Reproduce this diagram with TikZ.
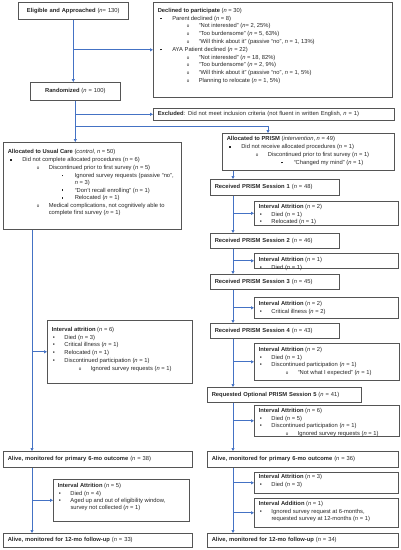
\documentclass[tikz,border=0pt]{standalone}
\usepackage{fontspec}
\setmainfont{Liberation Sans}
\usepackage{xcolor}
\usetikzlibrary{positioning, arrows.meta}

\definecolor{flowblue}{RGB}{68,114,196}
\definecolor{boxgray}{RGB}{85,85,85}

% one list entry: bullet position, text position, bullet, text
\newcommand{\itm}[4]{\par\leftskip=#2pt\relax\noindent\hspace*{\dimexpr#1pt-#2pt\relax}\makebox[\dimexpr#2pt-#1pt\relax][l]{#3}#4}
\newcommand{\sqb}{\rule[0.9pt]{1.7pt}{1.7pt}}
\newcommand{\ob}{{\fontsize{4.5}{5}\selectfont o}}
\newcommand{\lvla}{\itm{2.5}{14.5}{\sqb}}
\newcommand{\lvlb}{\itm{29}{41}{\ob}}
\newcommand{\lvlc}{\itm{54}{67}{\sqb}}
\newcommand{\iaa}{\itm{1}{12.7}{\textbullet}}
\newcommand{\iab}{\itm{27}{39}{\ob}}
\newcommand{\nn}{\textit{n}}
% box text: first baseline, box width, box height, text
\newcommand{\inbox}[4]{\parbox[t][#3pt][t]{\dimexpr#2pt-9pt\relax}{\setlength{\parskip}{0.8pt}\rightskip=-12pt\relax\rule{0pt}{#1pt}#4}}

\begin{document}
\begin{tikzpicture}[
    x=1pt, y=-1pt,
    font=\fontsize{5.8}{7}\selectfont,
    box/.style={draw=boxgray, line width=0.6pt, anchor=north west, inner xsep=4.5pt, inner ysep=0pt, text=black!85},
    line/.style={box, align=left},
    link/.style={flowblue, line width=0.7pt, -{Triangle[length=3pt, width=3pt]}}
]
\useasboundingbox (0,0) rectangle (401,550);

% --- enrolment ---
\node[box, align=center, text width=101pt, minimum height=17pt] (elig) at (18,2)
    {\textbf{Eligible and Approached} (\nn= 130)};
\node[box] (decl) at (153,2) {\inbox{10}{239}{95}{\textbf{Declined to participate} (\nn{} = 30)
    \lvla Parent declined (\nn{} = 8)
    \lvlb ``Not interested'' (\nn= 2, 25\%)
    \lvlb ``Too burdensome'' (\nn{} = 5, 63\%)
    \lvlb ``Will think about it'' (passive ``no'', \nn{} = 1, 13\%)
    \lvla AYA Patient declined (\nn{} = 22)
    \lvlb ``Not interested'' (\nn{} = 18, 82\%)
    \lvlb ``Too burdensome'' (\nn{} = 2, 9\%)
    \lvlb ``Will think about it'' (passive ``no'', \nn{} = 1, 5\%)
    \lvlb Planning to relocate (\nn{} = 1, 5\%)}};
\node[box, align=center, text width=81pt, minimum height=18pt] (rand) at (30,82)
    {\textbf{Randomized} (\nn{} = 100)};
\node[line, text width=232pt, minimum height=12pt] (excl) at (153,108)
    {\textbf{Excluded}: Did not meet inclusion criteria (not fluent in written English, \nn{} = 1)};

% --- allocation ---
\node[box] (uc) at (3,142) {\inbox{11.5}{178}{87}{\textbf{Allocated to Usual Care} (\textit{control}, \nn{} = 50)
    \lvla Did not complete allocated procedures (\nn{} = 6)
    \lvlb Discontinued prior to first survey (\nn{} = 5)
    \lvlc Ignored survey requests (passive ``no'',\newline \nn{} = 3)
    \lvlc ``Don't recall enrolling'' (\nn{} = 1)
    \lvlc Relocated (\nn{} = 1)
    \lvlb Medical complications, not cognitively able to\newline complete first survey (\nn{} = 1)}};
\node[box] (prism) at (222,133) {\inbox{7.5}{172}{37}{\textbf{Allocated to PRISM} (\textit{intervention}, \nn{} = 49)
    \lvla Did not receive allocated procedures (\nn{} = 1)
    \lvlb Discontinued prior to first survey (\nn{} = 1)
    \lvlc ``Changed my mind'' (\nn{} = 1)}};

% --- PRISM sessions ---
\node[line, text width=120pt, minimum height=16pt] (s1) at (210,179) {\textbf{Received PRISM Session 1} (\nn{} = 48)};
\node[box] (ia1) at (254,201) {\inbox{7}{144}{24}{\textbf{Interval Attrition} (\nn{} = 2)
    \iaa Died (\nn{} = 1)
    \iaa Relocated (\nn{} = 1)}};
\node[line, text width=120pt, minimum height=15pt] (s2) at (210,233) {\textbf{Received PRISM Session 2} (\nn{} = 46)};
\node[box] (ia2) at (254,253) {\inbox{8}{144}{15}{\textbf{Interval Attrition} (\nn{} = 1)
    \iaa Died (\nn{} = 1)}};
\node[line, text width=120pt, minimum height=15pt] (s3) at (210,274) {\textbf{Received PRISM Session 3} (\nn{} = 45)};
\node[box] (ia3) at (254,297) {\inbox{8}{144}{21}{\textbf{Interval Attrition} (\nn{} = 2)
    \iaa Critical illness (\nn{} = 2)}};
\node[line, text width=120pt, minimum height=15pt] (s4) at (210,323) {\textbf{Received PRISM Session 4} (\nn{} = 43)};
\node[box] (ia4) at (254,343) {\inbox{8}{145}{37}{\textbf{Interval Attrition} (\nn{} = 2)
    \iaa Died (\nn{} = 1)
    \iaa Discontinued participation (\nn{} = 1)
    \iab ``Not what I expected'' (\nn{} = 1)}};
\node[line, text width=145pt, minimum height=15pt] (s5) at (207,387) {\textbf{Requested Optional PRISM Session 5} (\nn{} = 41)};
\node[box] (ia5) at (254,405) {\inbox{7}{145}{31}{\textbf{Interval Attrition} (\nn{} = 6)
    \iaa Died (\nn{} = 5)
    \iaa Discontinued participation (\nn{} = 1)
    \iab Ignored survey requests (\nn{} = 1)}};
\node[line, text width=182pt, minimum height=16pt] (alive6r) at (207,451) {\textbf{Alive, monitored for primary 6-mo outcome} (\nn{} = 36)};
\node[box] (ia6) at (254,472) {\inbox{6.5}{144}{21}{\textbf{Interval Attrition} (\nn{} = 3)
    \iaa Died (\nn{} = 3)}};
\node[box] (add) at (254,498) {\inbox{7.5}{144}{29}{\textbf{Interval Addition} (\nn{} = 1)
    \iaa Ignored survey request at 6-months,\newline requested survey at 12-months (\nn{} = 1)}};
\node[line, text width=182pt, minimum height=14pt] (alive12r) at (207,533) {\textbf{Alive, monitored for 12-mo follow-up} (\nn{} = 34)};

% --- usual care follow-up ---
\node[box] (lia) at (47,320) {\inbox{11}{145}{63}{\textbf{Interval attrition} (\nn{} = 6)
    \iaa Died (\nn{} = 3)
    \iaa Critical illness (\nn{} = 1)
    \iaa Relocated (\nn{} = 1)
    \iaa Discontinued participation (\nn{} = 1)
    \iab Ignored survey requests (\nn{} = 1)}};
\node[line, text width=180pt, minimum height=16pt] (alive6l) at (3,451) {\textbf{Alive, monitored for primary 6-mo outcome} (\nn{} = 38)};
\node[box] (lia2) at (53,479) {\inbox{8}{136}{42}{\textbf{Interval Attrition} (\nn{} = 5)
    \iaa Died (\nn{} = 4)
    \iaa Aged up and out of eligibility window,\newline survey not collected (\nn{} = 1)}};
\node[line, text width=180pt, minimum height=14pt] (alive12l) at (3,533) {\textbf{Alive, monitored for 12-mo follow-up} (\nn{} = 33)};

% --- connectors ---
\draw[link] (elig.south) -- (elig.south |- rand.north);
\draw[link] (elig.south |- decl.west) -- (decl.west);
\draw[link] (rand.south) -- (rand.south |- uc.north);
\draw[link] (rand.south |- excl.west) -- (excl.west);
\draw[link] ([yshift=-26pt]rand.south) -| ([xshift=46pt]prism.north west);

\coordinate (rtrunk) at ([xshift=11pt]prism.south west);
\draw[link] (rtrunk) -- (rtrunk |- s1.north);
\foreach \a/\b in {s1/s2, s2/s3, s3/s4, s4/s5, s5/alive6r, alive6r/alive12r}
    \draw[link] (rtrunk |- \a.south) -- (rtrunk |- \b.north);
\foreach \b in {ia1, ia2, ia3, ia4, ia5, ia6, add}
    \draw[link] (rtrunk |- \b.west) -- (\b.west);

\coordinate (ltrunk) at ([xshift=29pt]uc.south west);
\draw[link] (ltrunk) -- (ltrunk |- alive6l.north);
\draw[link] (ltrunk |- alive6l.south) -- (ltrunk |- alive12l.north);
\foreach \b in {lia, lia2}
    \draw[link] (ltrunk |- \b.west) -- (\b.west);

\end{tikzpicture}
\end{document}
